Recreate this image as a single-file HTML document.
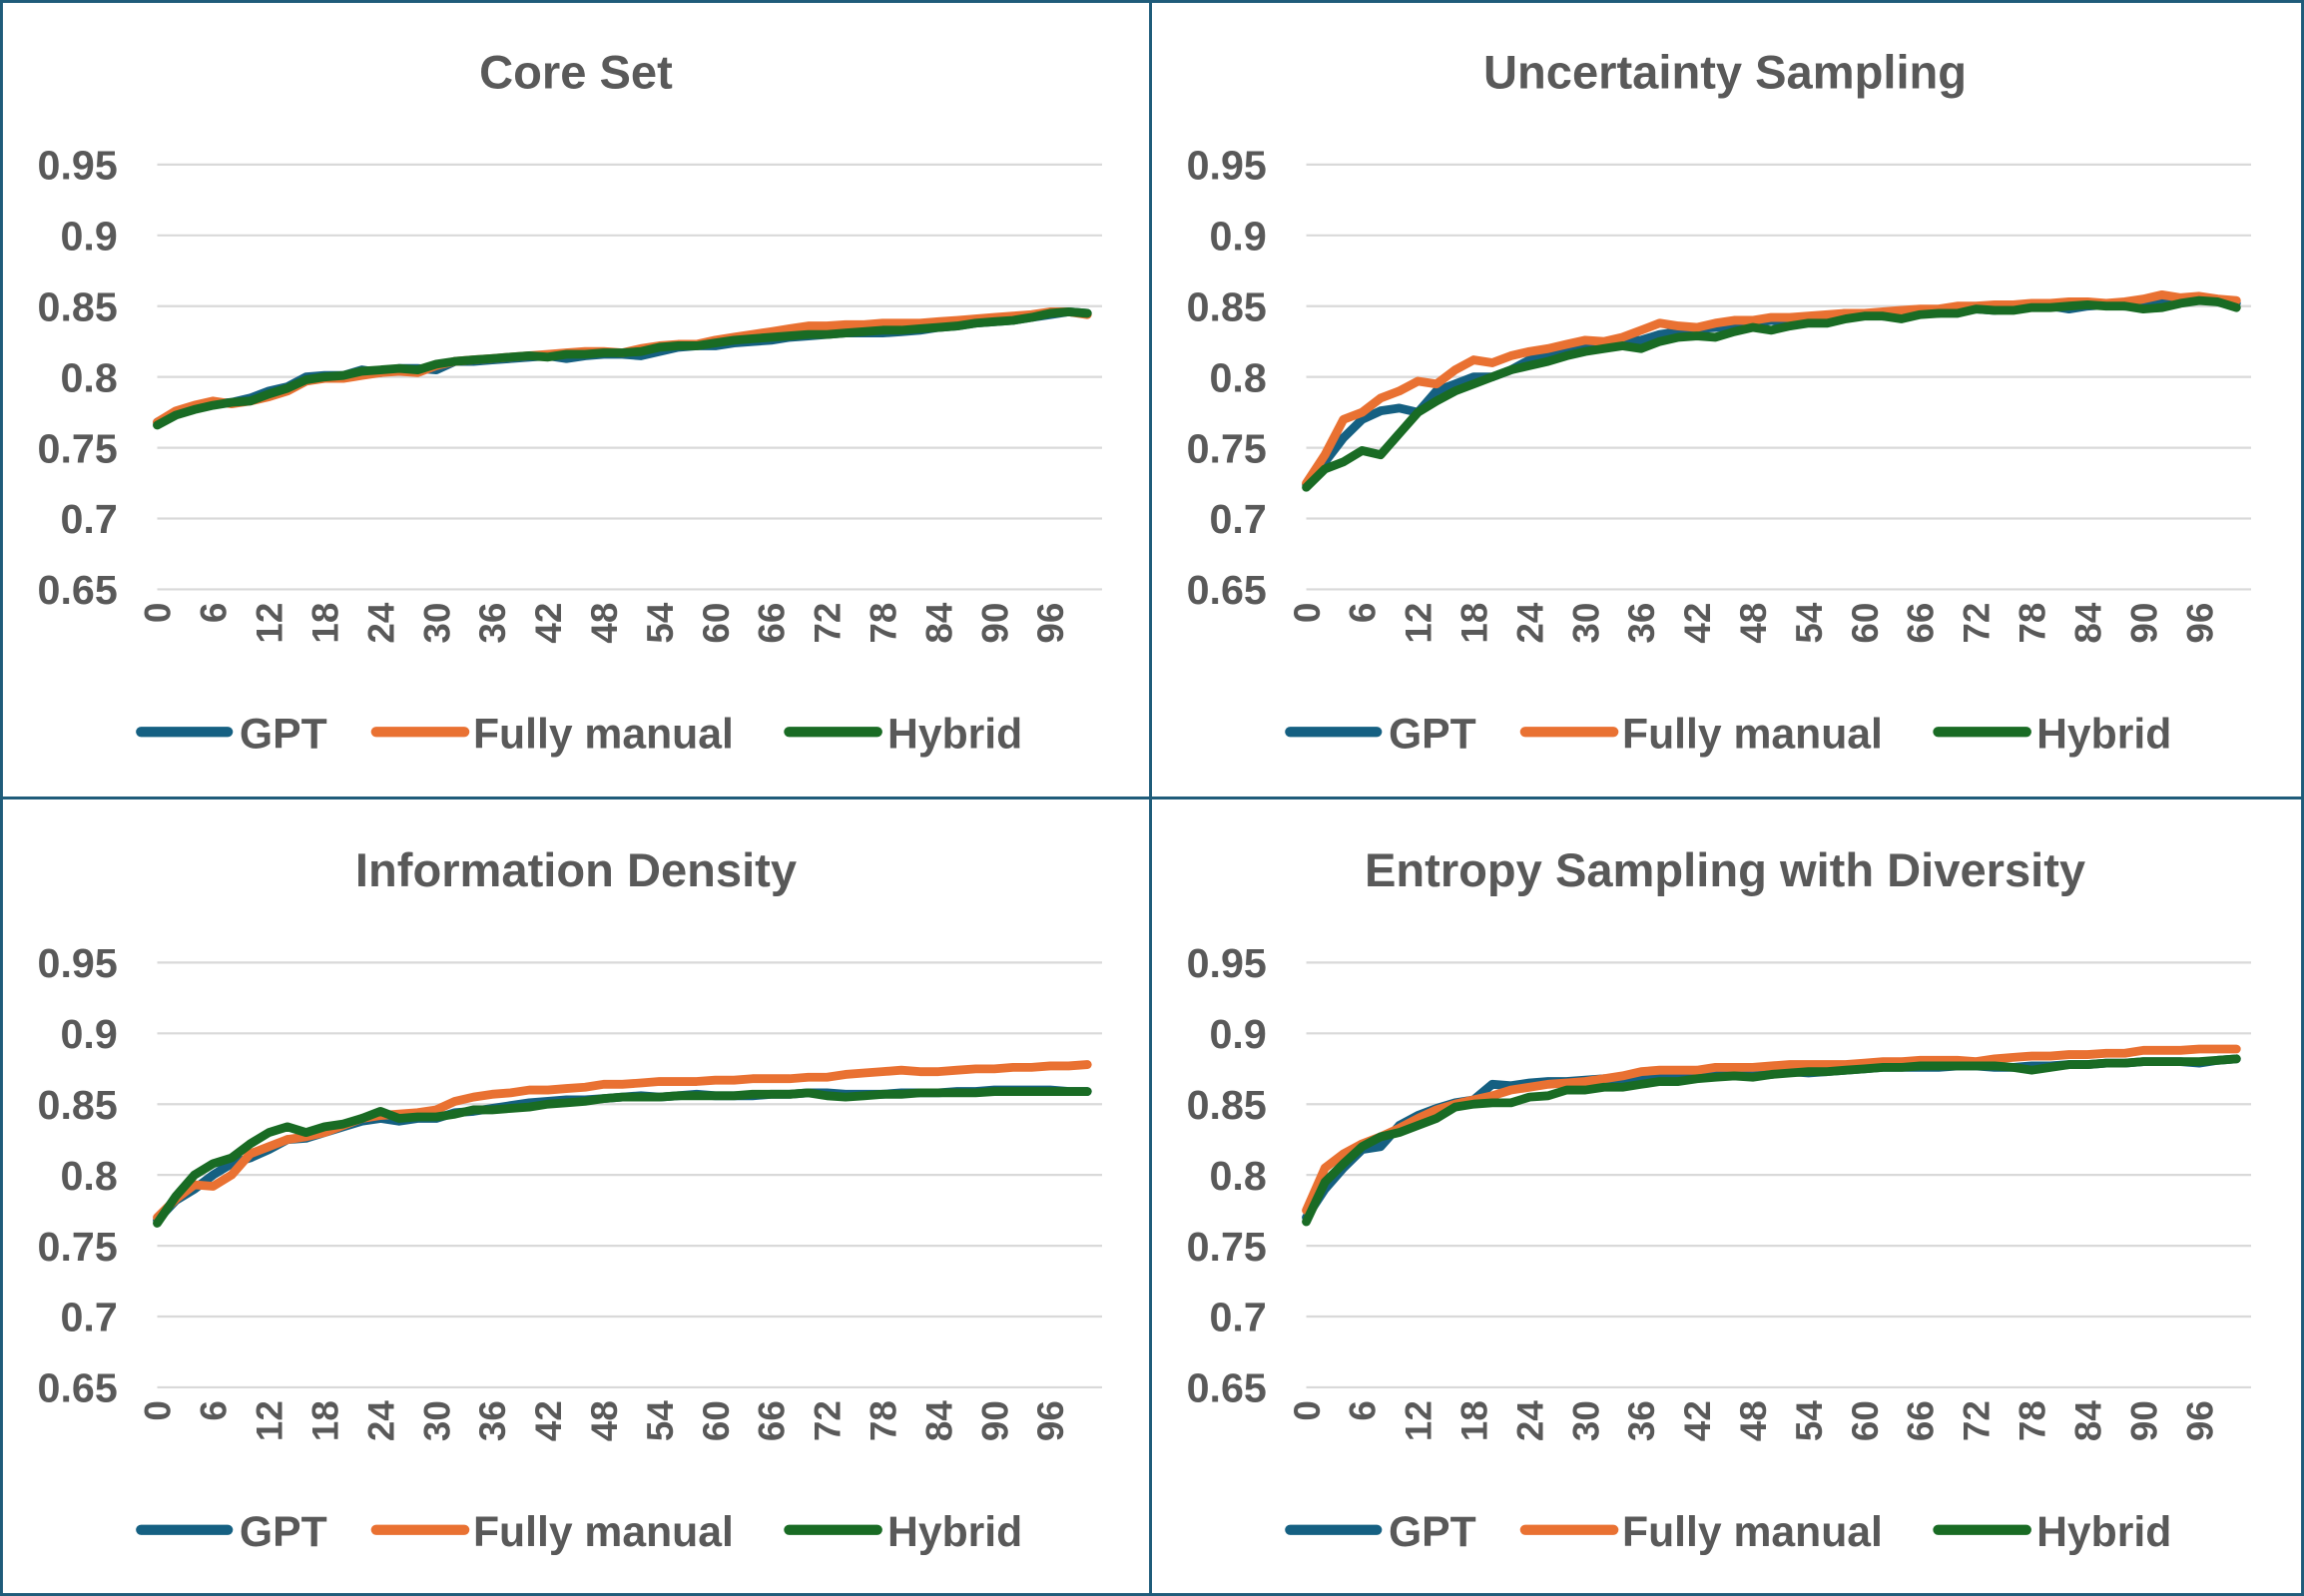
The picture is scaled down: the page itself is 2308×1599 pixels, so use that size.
<!DOCTYPE html>
<html><head><meta charset="utf-8"><style>
html,body{margin:0;padding:0;background:#fff;}
svg{display:block;}
text{font-family:"Liberation Sans",sans-serif;fill:#595959;font-weight:bold;}
</style></head><body>
<svg id="chart" width="2308" height="1599" viewBox="0 0 1568 1086" preserveAspectRatio="none" xmlns="http://www.w3.org/2000/svg">
<rect x="0" y="0" width="1568" height="1086" fill="#fff"/>
</svg>
<script>
// Values sampled every 2 iterations (x = 0,2,...,100)
const xStep = 2;
const yTicks = [0.65, 0.7, 0.75, 0.8, 0.85, 0.9, 0.95];
const yTickLabels = ["0.65","0.7","0.75","0.8","0.85","0.9","0.95"];
const xTickLabels = ["0","6","12","18","24","30","36","42","48","54","60","66","72","78","84","90","96"];
const seriesNames = ["GPT","Fully manual","Hybrid"];
const panelTitles = ["Core Set","Uncertainty Sampling","Information Density","Entropy Sampling with Diversity"];

const coreGPT = [.768,.775,.778,.781,.782,.785,.790,.793,.800,.801,.801,.805,.803,.806,.806,.805,.811,.811,.812,.813,.814,.815,.813,.815,.816,.816,.815,.818,.821,.822,.822,.824,.825,.826,.828,.829,.830,.831,.831,.831,.832,.833,.835,.836,.838,.839,.840,.842,.844,.846,.845];
const coreFully = [.768,.776,.780,.783,.781,.783,.786,.790,.797,.799,.799,.801,.803,.804,.803,.808,.811,.812,.813,.814,.815,.816,.817,.818,.818,.817,.820,.822,.823,.823,.826,.828,.830,.832,.834,.836,.836,.837,.837,.838,.838,.838,.839,.840,.841,.842,.843,.844,.846,.846,.844];
const coreHybrid = [.766,.773,.777,.780,.782,.783,.788,.792,.798,.800,.801,.804,.805,.806,.805,.809,.811,.812,.813,.814,.815,.814,.816,.816,.817,.817,.818,.821,.822,.822,.824,.826,.827,.828,.829,.830,.830,.831,.832,.833,.833,.834,.835,.836,.838,.839,.840,.842,.845,.846,.845];

const uncGPT = [.724,.740,.757,.770,.776,.778,.775,.790,.795,.800,.800,.805,.812,.815,.818,.822,.823,.825,.826,.830,.832,.834,.835,.836,.838,.840,.838,.841,.843,.845,.845,.843,.845,.846,.845,.847,.848,.847,.849,.850,.850,.848,.850,.851,.850,.852,.853,.853,.855,.853,.852];
const uncFully = [.725,.745,.770,.775,.785,.790,.797,.795,.805,.812,.810,.815,.818,.820,.823,.826,.825,.828,.833,.838,.836,.835,.838,.840,.840,.842,.842,.843,.844,.845,.845,.846,.847,.848,.848,.850,.850,.851,.851,.852,.852,.853,.853,.852,.853,.855,.858,.856,.857,.855,.854];
const uncHybrid = [.722,.735,.740,.748,.745,.760,.775,.783,.790,.795,.800,.805,.808,.811,.815,.818,.820,.822,.820,.825,.828,.829,.828,.832,.835,.833,.836,.838,.838,.841,.843,.843,.841,.844,.845,.845,.848,.847,.847,.849,.849,.850,.851,.850,.850,.848,.849,.852,.854,.853,.849];

const infGPT = [.768,.782,.790,.800,.808,.812,.818,.825,.826,.830,.834,.838,.840,.838,.840,.840,.844,.845,.847,.849,.851,.852,.853,.853,.854,.855,.856,.855,.856,.857,.856,.856,.856,.857,.857,.858,.858,.857,.857,.857,.858,.858,.858,.859,.859,.860,.860,.860,.860,.859,.859];
const infFully = [.770,.783,.793,.792,.800,.815,.820,.825,.827,.830,.835,.840,.842,.843,.844,.846,.852,.855,.857,.858,.860,.860,.861,.862,.864,.864,.865,.866,.866,.866,.867,.867,.868,.868,.868,.869,.869,.871,.872,.873,.874,.873,.873,.874,.875,.875,.876,.876,.877,.877,.878];
const infHybrid = [.766,.785,.800,.808,.812,.822,.830,.834,.830,.834,.836,.840,.845,.840,.841,.841,.843,.846,.846,.847,.848,.850,.851,.852,.854,.855,.855,.855,.856,.856,.856,.856,.857,.857,.857,.858,.856,.855,.856,.857,.857,.858,.858,.858,.858,.859,.859,.859,.859,.859,.859];

const entGPT = [.770,.790,.805,.818,.820,.835,.842,.847,.851,.853,.864,.863,.865,.866,.866,.867,.868,.867,.868,.870,.870,.870,.871,.872,.870,.871,.873,.872,.873,.874,.875,.876,.876,.876,.876,.877,.877,.876,.876,.877,.877,.878,.878,.879,.879,.880,.880,.880,.879,.881,.882];
const entFully = [.775,.805,.815,.822,.827,.833,.840,.846,.850,.853,.856,.860,.862,.864,.865,.866,.868,.870,.873,.874,.874,.874,.876,.876,.876,.877,.878,.878,.878,.878,.879,.880,.880,.881,.881,.881,.880,.882,.883,.884,.884,.885,.885,.886,.886,.888,.888,.888,.889,.889,.889];
const entHybrid = [.767,.795,.808,.820,.827,.830,.835,.840,.848,.850,.851,.851,.855,.856,.860,.860,.862,.862,.864,.866,.866,.868,.869,.870,.869,.871,.872,.873,.873,.874,.875,.876,.876,.877,.877,.877,.877,.877,.876,.874,.876,.878,.878,.879,.879,.880,.880,.880,.880,.881,.882];

const panelSeries = [[coreGPT,coreFully,coreHybrid],[uncGPT,uncFully,uncHybrid],[infGPT,infFully,infHybrid],[entGPT,entFully,entHybrid]];
const colors = ["#156082","#E97132","#196B24"];
const NS = "http://www.w3.org/2000/svg";
const svg = document.getElementById('chart');
function mk(tag, attrs, parent){const e=document.createElementNS(NS,tag);for(const k in attrs)e.setAttribute(k,attrs[k]);(parent||svg).appendChild(e);return e;}

const offsets = [[0,0],[782,0],[0,543],[782,543]];
const slugs = ["core-set","uncertainty-sampling","information-density","entropy-sampling"];
panelTitles.forEach((title,p)=>{
  const [ox,oy]=offsets[p];
  const g=mk('g',{transform:`translate(${ox},${oy})`});
  
  
  const xS=v=>107+v*6.33;
  const yS=v=>401-(v-0.65)/0.3*289;
  const t=mk('text',{x:392,y:60,'text-anchor':'middle','font-size':32},g);t.textContent=title;
  
  
  yTicks.forEach((v,i)=>{
    const l=mk('line',{x1:107,x2:750,y1:yS(v),y2:yS(v),stroke:'#d9d9d9','stroke-width':1.5},g);
    
    
    const tl=mk('text',{x:80,y:yS(v)+10,'text-anchor':'end','font-size':28},g);tl.textContent=yTickLabels[i];
    
    
  });
  xTickLabels.forEach(lbl=>{
    const v=+lbl;const x=xS(v)+9;
    const tl=mk('text',{x:x,y:410,'text-anchor':'end','font-size':25,transform:`rotate(-90 ${x} 410)`},g);tl.textContent=lbl;
    
    
  });
  panelSeries[p].forEach((arr,s)=>{
    const pts=arr.map((v,i)=>xS(i*xStep).toFixed(1)+','+yS(v).toFixed(1)).join(' ');
    const pl=mk('polyline',{points:pts,fill:'none',stroke:colors[s],'stroke-width':6,'stroke-linejoin':'round','stroke-linecap':'round'},g);
    
    
  });
  const lx=[[96,155,163],[256,316,322],[537,597,604]];
  seriesNames.forEach((n,s)=>{
    const lg=mk('g',{},g);
    
    
    mk('line',{x1:lx[s][0],x2:lx[s][1],y1:498,y2:498,stroke:colors[s],'stroke-width':7,'stroke-linecap':'round'},lg);
    const lt=mk('text',{x:lx[s][2],y:509,'font-size':29},lg);lt.textContent=n;
  });
});
// borders
const b=mk('rect',{x:1,y:1,width:1566,height:1084,fill:'none',stroke:'#1f5c7a','stroke-width':2});


const v1=mk('line',{x1:783,x2:783,y1:0,y2:1086,stroke:'#1f5c7a','stroke-width':2});


const h1=mk('line',{x1:0,x2:1568,y1:543,y2:543,stroke:'#1f5c7a','stroke-width':2});


</script>
</body></html>
